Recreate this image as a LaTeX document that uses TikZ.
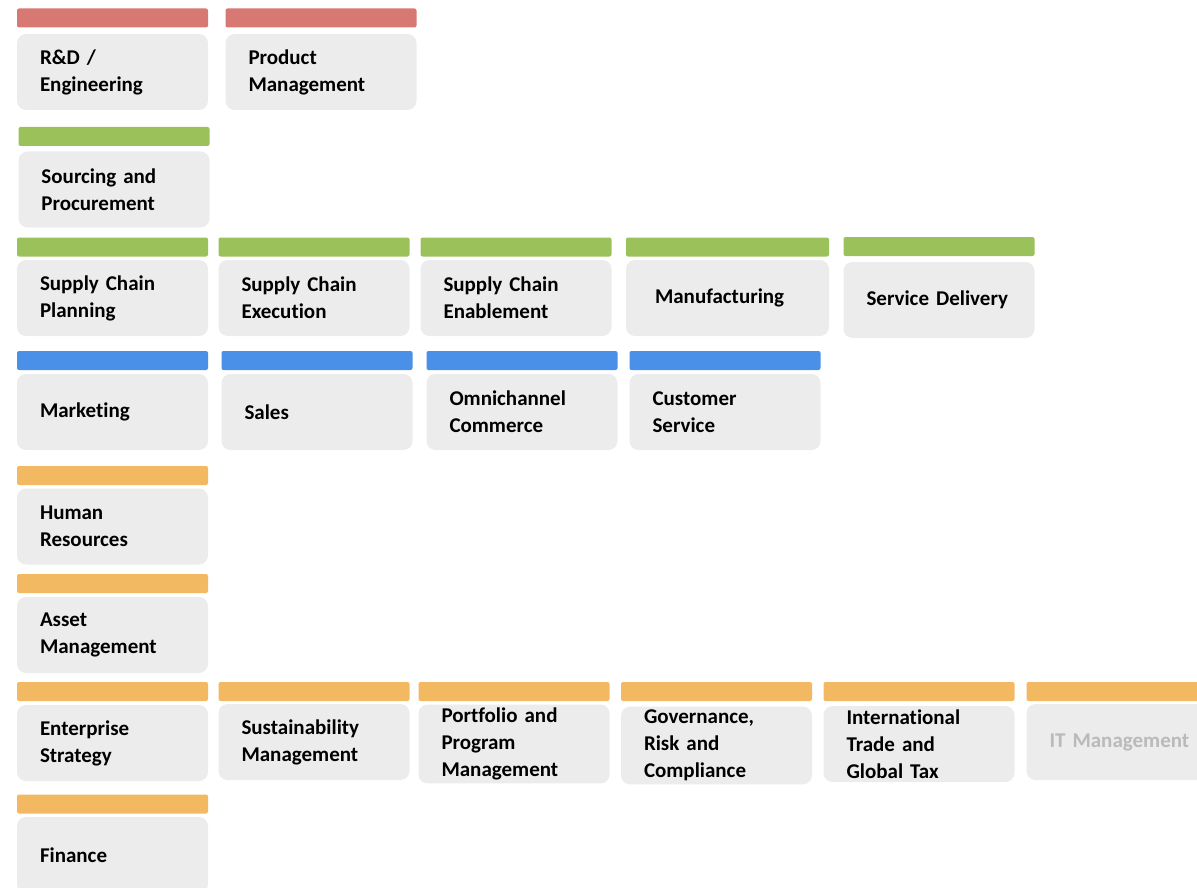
\documentclass[tikz,border=0pt]{standalone}
\usepackage{fontspec}
\setmainfont{Carlito}[Ligatures=NoCommon]
\usepackage{tikz}
\usetikzlibrary{shapes,positioning}
\definecolor{barred}{HTML}{D87873}
\definecolor{bargreen}{HTML}{9BC25A}
\definecolor{barblue}{HTML}{4A8FE8}
\definecolor{baryellow}{HTML}{F3B962}
\definecolor{cardgray}{HTML}{ECECEC}
\tikzstyle{card} = [rectangle, fill=cardgray, rounded corners=9pt,
    minimum width=191pt, minimum height=76pt, text width=145pt, inner xsep=23pt,
    align=left, font=\bfseries\fontsize{21}{27}\selectfont]
\tikzstyle{headbar} = [rectangle, rounded corners=2pt, minimum width=191pt,
    minimum height=19pt, inner sep=0pt]

\begin{document}
\begin{tikzpicture}[x=1pt, y=-1pt]
    \useasboundingbox (0,0) rectangle (1197,888);
    \clip (0,0) rectangle (1197,888);

    % red
    \node[headbar, fill=barred] (rdbar) at (112.5,18) {};
    \node[card] (rd) at (112.5,72) {R\&D /\\Engineering};
    \node[headbar, fill=barred] (pmbar) at (321,18) {};
    \node[card] (pm) at (321,72) {Product\\Management};

    % green
    \node[headbar, fill=bargreen] (spbar) at (114,136.5) {};
    \node[card] (sp) at (114,189.5) {Sourcing and\\Procurement};
    \node[headbar, fill=bargreen] (scpbar) at (112.5,247) {};
    \node[card] (scp) at (112.5,298) {Supply Chain\\Planning};
    \node[headbar, fill=bargreen] (scebar) at (314,247) {};
    \node[card] (sce) at (314,298) {Supply Chain\\Execution};
    \node[headbar, fill=bargreen] (scnbar) at (516,247) {};
    \node[card] (scn) at (516,298) {Supply Chain\\Enablement};
    \node[headbar, fill=bargreen, minimum width=203pt] (mfgbar) at (727.5,247) {};
    \node[card, minimum width=203pt] (mfg) at (727.5,298) {Manufacturing};
    \node[headbar, fill=bargreen] (sdbar) at (939,246.5) {};
    \node[card] (sd) at (939,300) {Service Delivery};

    % blue
    \node[headbar, fill=barblue] (mktbar) at (112.5,360.5) {};
    \node[card] (mkt) at (112.5,412) {Marketing};
    \node[headbar, fill=barblue] (salbar) at (317,360.5) {};
    \node[card] (sal) at (317,412) {Sales};
    \node[headbar, fill=barblue] (omnbar) at (522,360.5) {};
    \node[card] (omn) at (522,412) {Omnichannel\\Commerce};
    \node[headbar, fill=barblue] (csbar) at (725,360.5) {};
    \node[card] (cs) at (725,412) {Customer\\Service};

    % yellow
    \node[headbar, fill=baryellow] (hrbar) at (112.5,475.5) {};
    \node[card] (hr) at (112.5,526.5) {Human\\Resources};
    \node[headbar, fill=baryellow] (ambar) at (112.5,583.5) {};
    \node[card] (am) at (112.5,635) {Asset\\Management};
    \node[headbar, fill=baryellow] (esbar) at (112.5,691.5) {};
    \node[card] (es) at (112.5,743) {Enterprise\\Strategy};
    \node[headbar, fill=baryellow] (smbar) at (314,691.5) {};
    \node[card] (sm) at (314,742) {Sustainability\\Management};
    \node[headbar, fill=baryellow] (ppmbar) at (514,691.5) {};
    \node[card] (ppm) at (514,744) {Portfolio and\\Program\\Management};
    \node[headbar, fill=baryellow] (grcbar) at (716.5,691.5) {};
    \node[card] (grc) at (716.5,745.5) {Governance,\\Risk and\\Compliance};
    \node[headbar, fill=baryellow] (itgbar) at (919,691.5) {};
    \node[card] (itg) at (919,744) {International\\Trade and\\Global Tax};
    \node[headbar, fill=baryellow] (itmbar) at (1122,691.5) {};
    \node[card, text=black!27] (itm) at (1122,742) {IT Management};
    \node[headbar, fill=baryellow] (finbar) at (112.5,804) {};
    \node[card] (fin) at (112.5,855) {Finance};
\end{tikzpicture}
\end{document}
